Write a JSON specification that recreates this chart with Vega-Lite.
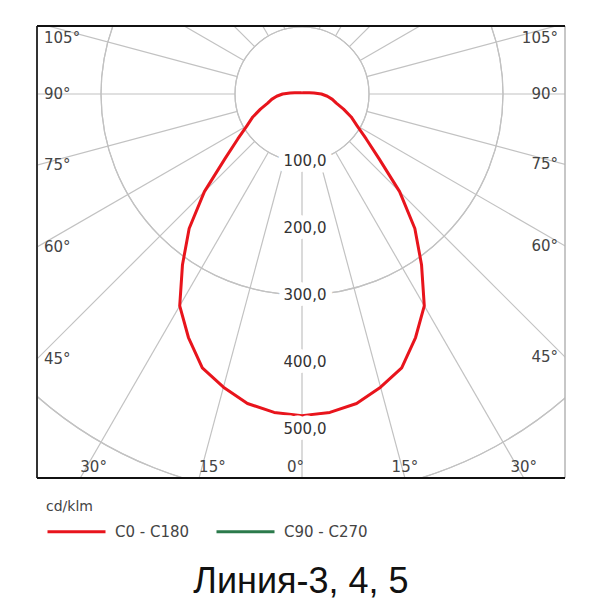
{
  "$schema": "https://vega.github.io/schema/vega-lite/v6.json",
  "autosize": {"type": "none"},
  "width": 528,
  "height": 452,
  "padding": {"left": 37, "top": 26, "right": 35, "bottom": 134},
  "background": "white",
  "config": {
    "view": {"stroke": null},
    "locale": {"number": {"decimal": ",", "thousands": " ", "grouping": [3], "currency": ["", ""]}},
    "text": {"font": "DejaVu Sans"}
  },
  "title": {
    "text": "Линия-3, 4, 5",
    "orient": "bottom",
    "anchor": "middle",
    "frame": "group",
    "font": "Liberation Sans",
    "fontSize": 36,
    "fontWeight": "normal",
    "color": "#111",
    "baseline": "alphabetic",
    "offset": 53
  },
  "datasets": {
    "frame": [{"edge": "border"}],
    "rings": [{"r": 100}, {"r": 200}, {"r": 300}, {"r": 400}, {"r": 500}],
    "spokes": [
      {"a": -165}, {"a": -150}, {"a": -135}, {"a": -120}, {"a": -105}, {"a": -90}, {"a": -75}, {"a": -60}, {"a": -45}, {"a": -30}, {"a": -15},
      {"a": 0}, {"a": 15}, {"a": 30}, {"a": 45}, {"a": 60}, {"a": 75}, {"a": 90}, {"a": 105}, {"a": 120}, {"a": 135}, {"a": 150}, {"a": 165}, {"a": 180}
    ],
    "curve": [
      {"plane": "C0 - C180", "a": -180, "I": 2},
      {"plane": "C0 - C180", "a": -165, "I": 2},
      {"plane": "C0 - C180", "a": -150, "I": 2},
      {"plane": "C0 - C180", "a": -135, "I": 2.5},
      {"plane": "C0 - C180", "a": -120, "I": 3.5},
      {"plane": "C0 - C180", "a": -110, "I": 5},
      {"plane": "C0 - C180", "a": -105, "I": 7},
      {"plane": "C0 - C180", "a": -100, "I": 11},
      {"plane": "C0 - C180", "a": -95, "I": 18},
      {"plane": "C0 - C180", "a": -90, "I": 29},
      {"plane": "C0 - C180", "a": -85, "I": 38},
      {"plane": "C0 - C180", "a": -80, "I": 46},
      {"plane": "C0 - C180", "a": -75, "I": 53},
      {"plane": "C0 - C180", "a": -70, "I": 66},
      {"plane": "C0 - C180", "a": -65, "I": 81},
      {"plane": "C0 - C180", "a": -60, "I": 95},
      {"plane": "C0 - C180", "a": -55, "I": 117},
      {"plane": "C0 - C180", "a": -50, "I": 150},
      {"plane": "C0 - C180", "a": -45, "I": 206},
      {"plane": "C0 - C180", "a": -40, "I": 262},
      {"plane": "C0 - C180", "a": -35, "I": 311},
      {"plane": "C0 - C180", "a": -30, "I": 365},
      {"plane": "C0 - C180", "a": -25, "I": 401},
      {"plane": "C0 - C180", "a": -20, "I": 435},
      {"plane": "C0 - C180", "a": -15, "I": 453},
      {"plane": "C0 - C180", "a": -10, "I": 469},
      {"plane": "C0 - C180", "a": -5, "I": 477},
      {"plane": "C0 - C180", "a": 0, "I": 480},
      {"plane": "C0 - C180", "a": 5, "I": 477},
      {"plane": "C0 - C180", "a": 10, "I": 469},
      {"plane": "C0 - C180", "a": 15, "I": 453},
      {"plane": "C0 - C180", "a": 20, "I": 435},
      {"plane": "C0 - C180", "a": 25, "I": 401},
      {"plane": "C0 - C180", "a": 30, "I": 365},
      {"plane": "C0 - C180", "a": 35, "I": 311},
      {"plane": "C0 - C180", "a": 40, "I": 262},
      {"plane": "C0 - C180", "a": 45, "I": 206},
      {"plane": "C0 - C180", "a": 50, "I": 150},
      {"plane": "C0 - C180", "a": 55, "I": 117},
      {"plane": "C0 - C180", "a": 60, "I": 95},
      {"plane": "C0 - C180", "a": 65, "I": 81},
      {"plane": "C0 - C180", "a": 70, "I": 66},
      {"plane": "C0 - C180", "a": 75, "I": 53},
      {"plane": "C0 - C180", "a": 80, "I": 46},
      {"plane": "C0 - C180", "a": 85, "I": 38},
      {"plane": "C0 - C180", "a": 90, "I": 29},
      {"plane": "C0 - C180", "a": 95, "I": 18},
      {"plane": "C0 - C180", "a": 100, "I": 11},
      {"plane": "C0 - C180", "a": 105, "I": 7},
      {"plane": "C0 - C180", "a": 110, "I": 5},
      {"plane": "C0 - C180", "a": 120, "I": 3.5},
      {"plane": "C0 - C180", "a": 135, "I": 2.5},
      {"plane": "C0 - C180", "a": 150, "I": 2},
      {"plane": "C0 - C180", "a": 165, "I": 2},
      {"plane": "C0 - C180", "a": 180, "I": 2}
    ],
    "sideLabels": [
      {"lab": "105°", "a": 105}, {"lab": "90°", "a": 90}, {"lab": "75°", "a": 75}, {"lab": "60°", "a": 60}, {"lab": "45°", "a": 45}
    ],
    "bottomLabels": [
      {"lab": "30°", "a": -30}, {"lab": "15°", "a": -15}, {"lab": "0°", "a": 0}, {"lab": "15°", "a": 15}, {"lab": "30°", "a": 30}
    ]
  },
  "layer": [
    {
      "data": {"name": "rings"},
      "mark": {"type": "arc", "theta": 0, "theta2": 6.2832, "fill": "white", "fillOpacity": 0, "stroke": "#c2c2c2", "strokeWidth": 1.2, "clip": true},
      "encoding": {
        "x": {"datum": 0, "type": "quantitative", "scale": {"domain": [-395.5, 392.5], "nice": false, "zero": false}, "axis": null},
        "y": {"datum": 0, "type": "quantitative", "scale": {"domain": [-573.1, 101.5], "nice": false, "zero": false}, "axis": null},
        "radius": {"field": "r", "type": "quantitative", "scale": {"type": "linear", "domain": [0, 500], "range": [0, 335], "zero": true}, "legend": null}
      }
    },
    {
      "data": {"name": "spokes"},
      "transform": [
        {"calculate": "100*sin(datum.a*PI/180)", "as": "sx1"},
        {"calculate": "-100*cos(datum.a*PI/180)", "as": "sy1"},
        {"calculate": "1200*sin(datum.a*PI/180)", "as": "sx2"},
        {"calculate": "-1200*cos(datum.a*PI/180)", "as": "sy2"}
      ],
      "mark": {"type": "rule", "color": "#c2c2c2", "strokeWidth": 1.2, "clip": true},
      "encoding": {
        "x": {"field": "sx1", "type": "quantitative", "scale": {"domain": [-395.5, 392.5], "nice": false, "zero": false}, "axis": null},
        "y": {"field": "sy1", "type": "quantitative", "scale": {"domain": [-573.1, 101.5], "nice": false, "zero": false}, "axis": null},
        "x2": {"field": "sx2"},
        "y2": {"field": "sy2"}
      }
    },
    {
      "data": {"name": "curve"},
      "transform": [
        {"calculate": "datum.I*sin(datum.a*PI/180)", "as": "cx"},
        {"calculate": "-datum.I*cos(datum.a*PI/180)", "as": "cy"}
      ],
      "mark": {"type": "line", "strokeWidth": 3, "clip": true, "strokeJoin": "round"},
      "encoding": {
        "x": {"field": "cx", "type": "quantitative", "scale": {"domain": [-395.5, 392.5], "nice": false, "zero": false}, "axis": null},
        "y": {"field": "cy", "type": "quantitative", "scale": {"domain": [-573.1, 101.5], "nice": false, "zero": false}, "axis": null},
        "order": {"field": "a", "type": "quantitative"},
        "color": {
          "field": "plane", "type": "nominal",
          "scale": {"domain": ["C0 - C180", "C90 - C270"], "range": ["#e8141c", "#2b7a4b"]},
          "legend": {
            "title": "cd/klm",
            "orient": "none",
            "legendX": 9,
            "legendY": 474,
            "direction": "horizontal",
            "symbolType": "stroke",
            "symbolSize": 3364,
            "symbolStrokeWidth": 3,
            "labelFont": "DejaVu Sans",
            "labelFontSize": 15,
            "labelColor": "#444",
            "labelOffset": 8,
            "columnPadding": 20,
            "titleFont": "DejaVu Sans",
            "titleFontSize": 14,
            "titleFontWeight": "normal",
            "titleColor": "#444",
            "titlePadding": -13,
            "padding": 0
          }
        }
      }
    },
    {
      "data": {"name": "rings"},
      "transform": [{"calculate": "-datum.r", "as": "ny"}],
      "mark": {"type": "text", "fontSize": 15, "align": "center", "baseline": "middle", "dx": 3, "fill": "white", "stroke": "white", "strokeWidth": 13, "strokeJoin": "round"},
      "encoding": {
        "x": {"datum": 0, "type": "quantitative", "scale": {"domain": [-395.5, 392.5], "nice": false, "zero": false}, "axis": null},
        "y": {"field": "ny", "type": "quantitative", "scale": {"domain": [-573.1, 101.5], "nice": false, "zero": false}, "axis": null},
        "text": {"field": "r", "type": "quantitative", "format": ".1f"}
      }
    },
    {
      "data": {"name": "rings"},
      "transform": [{"calculate": "-datum.r", "as": "ny"}],
      "mark": {"type": "text", "fontSize": 15, "align": "center", "baseline": "middle", "dx": 3, "color": "#333"},
      "encoding": {
        "x": {"datum": 0, "type": "quantitative", "scale": {"domain": [-395.5, 392.5], "nice": false, "zero": false}, "axis": null},
        "y": {"field": "ny", "type": "quantitative", "scale": {"domain": [-573.1, 101.5], "nice": false, "zero": false}, "axis": null},
        "text": {"field": "r", "type": "quantitative", "format": ".1f"}
      }
    },
    {
      "data": {"name": "sideLabels"},
      "transform": [{"calculate": "min(-395.5*cos(datum.a*PI/180)/sin(datum.a*PI/180), 84)", "as": "ly"}],
      "mark": {"type": "text", "fontSize": 15, "align": "left", "baseline": "middle", "dx": 7, "color": "#444"},
      "encoding": {
        "x": {"datum": -395.5, "type": "quantitative", "scale": {"domain": [-395.5, 392.5], "nice": false, "zero": false}, "axis": null},
        "y": {"field": "ly", "type": "quantitative", "scale": {"domain": [-573.1, 101.5], "nice": false, "zero": false}, "axis": null},
        "text": {"field": "lab"}
      }
    },
    {
      "data": {"name": "sideLabels"},
      "transform": [{"calculate": "min(-392.5*cos(datum.a*PI/180)/sin(datum.a*PI/180), 84)", "as": "ly"}],
      "mark": {"type": "text", "fontSize": 15, "align": "right", "baseline": "middle", "dx": -7, "color": "#444"},
      "encoding": {
        "x": {"datum": 392.5, "type": "quantitative", "scale": {"domain": [-395.5, 392.5], "nice": false, "zero": false}, "axis": null},
        "y": {"field": "ly", "type": "quantitative", "scale": {"domain": [-573.1, 101.5], "nice": false, "zero": false}, "axis": null},
        "text": {"field": "lab"}
      }
    },
    {
      "data": {"name": "bottomLabels"},
      "transform": [
        {"filter": "datum.a < 0"},
        {"calculate": "573.1*tan(datum.a*PI/180)", "as": "lx"}
      ],
      "mark": {"type": "text", "fontSize": 15, "align": "left", "baseline": "middle", "dy": -11.5, "color": "#444"},
      "encoding": {
        "x": {"field": "lx", "type": "quantitative", "scale": {"domain": [-395.5, 392.5], "nice": false, "zero": false}, "axis": null},
        "y": {"datum": -573.1, "type": "quantitative", "scale": {"domain": [-573.1, 101.5], "nice": false, "zero": false}, "axis": null},
        "text": {"field": "lab"}
      }
    },
    {
      "data": {"name": "bottomLabels"},
      "transform": [
        {"filter": "datum.a == 0"},
        {"calculate": "573.1*tan(datum.a*PI/180)", "as": "lx"}
      ],
      "mark": {"type": "text", "fontSize": 15, "align": "right", "baseline": "middle", "dy": -11.5, "dx": 2, "color": "#444"},
      "encoding": {
        "x": {"field": "lx", "type": "quantitative", "scale": {"domain": [-395.5, 392.5], "nice": false, "zero": false}, "axis": null},
        "y": {"datum": -573.1, "type": "quantitative", "scale": {"domain": [-573.1, 101.5], "nice": false, "zero": false}, "axis": null},
        "text": {"field": "lab"}
      }
    },
    {
      "data": {"name": "bottomLabels"},
      "transform": [
        {"filter": "datum.a > 0"},
        {"calculate": "573.1*tan(datum.a*PI/180)", "as": "lx"}
      ],
      "mark": {"type": "text", "fontSize": 15, "align": "center", "baseline": "middle", "dy": -11.5, "color": "#444"},
      "encoding": {
        "x": {"field": "lx", "type": "quantitative", "scale": {"domain": [-395.5, 392.5], "nice": false, "zero": false}, "axis": null},
        "y": {"datum": -573.1, "type": "quantitative", "scale": {"domain": [-573.1, 101.5], "nice": false, "zero": false}, "axis": null},
        "text": {"field": "lab"}
      }
    },
    {
      "data": {"name": "frame"},
      "mark": {"type": "rule", "color": "#b5b5b5", "strokeWidth": 1.5},
      "encoding": {
        "x": {"datum": 392.5, "type": "quantitative", "scale": {"domain": [-395.5, 392.5], "nice": false, "zero": false}, "axis": null}
      }
    },
    {
      "data": {"name": "frame"},
      "mark": {"type": "rule", "color": "#333", "strokeWidth": 2},
      "encoding": {
        "x": {"datum": -395.5, "type": "quantitative", "scale": {"domain": [-395.5, 392.5], "nice": false, "zero": false}, "axis": null}
      }
    },
    {
      "data": {"name": "frame"},
      "mark": {"type": "rule", "color": "#111", "strokeWidth": 2},
      "encoding": {
        "y": {"datum": 101.5, "type": "quantitative", "scale": {"domain": [-573.1, 101.5], "nice": false, "zero": false}, "axis": null}
      }
    },
    {
      "data": {"name": "frame"},
      "mark": {"type": "rule", "color": "#111", "strokeWidth": 2},
      "encoding": {
        "y": {"datum": -573.1, "type": "quantitative", "scale": {"domain": [-573.1, 101.5], "nice": false, "zero": false}, "axis": null}
      }
    }
  ]
}
